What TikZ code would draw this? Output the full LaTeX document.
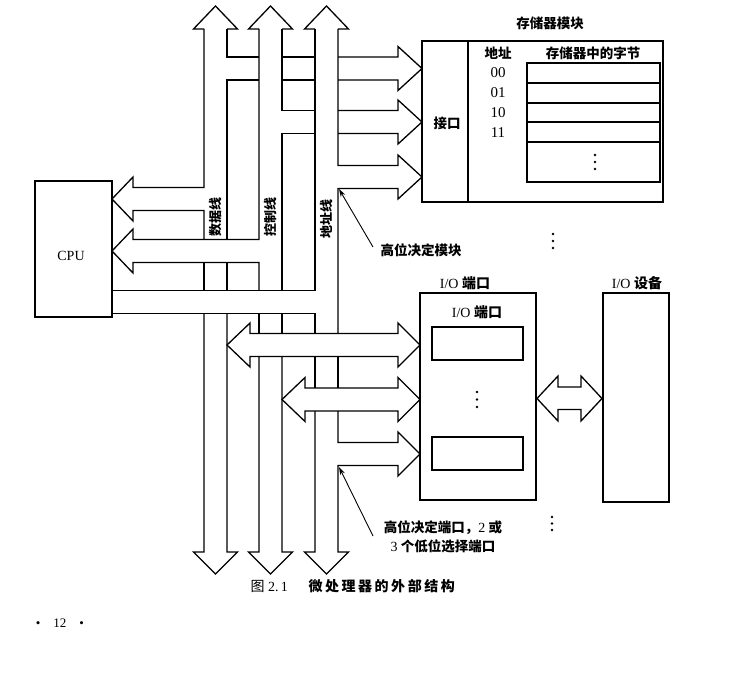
\documentclass[tikz,border=0pt]{standalone}
\usepackage{fontspec}
\setmainfont{Liberation Serif}
\newfontfamily\cjk{Noto Sans CJK SC}
\newfontfamily\cjkwide[LetterSpace=18]{Noto Sans CJK SC}
\usetikzlibrary{arrows.meta}
\begin{document}
\begin{tikzpicture}[x=1pt,y=-1pt,line width=1.3pt,line join=miter,
  box/.style={draw,rectangle,inner sep=0pt,line width=1.3pt},
  zh/.style={font=\cjk\bfseries\fontsize{13.5}{16}\selectfont,inner sep=0pt},
  zhv/.style={font=\cjk\bfseries\fontsize{13}{15}\selectfont,inner sep=0pt,rotate=90},
  lat/.style={font=\fontsize{14}{16}\selectfont,inner sep=0pt},
  num/.style={font=\fontsize{15}{17}\selectfont,inner sep=0pt},
  note/.style={line width=0.9pt,-{Stealth[length=8pt,width=5pt]}},
  dotc/.style={fill,circle,inner sep=0pt,minimum size=2.6pt}]
\fill[white] (0,0) rectangle (748,677);
\useasboundingbox (0,0) rectangle (748,677);

% ---------- boxes ----------
\node[box,minimum width=77pt,minimum height=136pt] (cpu) at (73.5,249) {};
\node[lat] (cputxt) at (71,256) {CPU};

\node[box,minimum width=241pt,minimum height=161pt] (mem) at (542.5,121.5) {};
\draw (468,41) -- (468,202);
\node[zh] (memtitle) at (550,23) {存储器模块};
\node[zh] (iface) at (447,123) {接口};
\node[zh] (addrhd) at (498,53) {地址};
\node[zh] (bytehd) at (593,53) {存储器中的字节};
\node[num] (a00) at (498,73) {00};
\node[num] (a01) at (498,93) {01};
\node[num] (a10) at (498,113) {10};
\node[num] (a11) at (498,133) {11};
\node[box,minimum width=133pt,minimum height=119pt] (cells) at (593.5,122.5) {};
\draw (527,83) -- (660,83);
\draw (527,103) -- (660,103);
\draw (527,122) -- (660,122);
\draw (527,142) -- (660,142);
\node[dotc] (md1) at (595,155) {};
\node[dotc] (md2) at (595,162) {};
\node[dotc] (md3) at (595,169) {};
\node[dotc] (vd1) at (553,234) {};
\node[dotc] (vd2) at (553,241) {};
\node[dotc] (vd3) at (553,248) {};

\node[lat] (iopl) at (465,283) {I/O {\cjk\bfseries 端口}};
\node[box,minimum width=116pt,minimum height=207pt] (iop) at (478,396.5) {};
\node[lat] (iopl2) at (477,312) {I/O {\cjk\bfseries 端口}};
\node[box,minimum width=91pt,minimum height=33pt] (port1) at (477.5,343.5) {};
\node[box,minimum width=91pt,minimum height=33pt] (port2) at (477.5,453.5) {};
\node[dotc] (pd1) at (477,392) {};
\node[dotc] (pd2) at (477,399.5) {};
\node[dotc] (pd3) at (477,407) {};
\node[lat] (devl) at (637,283) {I/O {\cjk\bfseries 设备}};
\node[box,minimum width=66pt,minimum height=209pt] (dev) at (636,397.5) {};
\node[dotc] (bd1) at (552,517) {};
\node[dotc] (bd2) at (552,523.5) {};
\node[dotc] (bd3) at (552,530) {};

% double arrow port <-> device
\draw (537,398.5) -- (558,376) -- (558,387) -- (581,387) -- (581,376) -- (602,398.5)
  -- (581,421) -- (581,409.5) -- (558,409.5) -- (558,421) -- cycle;

% ---------- data bus ----------
\draw (204,29) -- (193.5,29) -- (215.5,6) -- (237.5,29) -- (227,29);
\draw (204,29) -- (204,187.5) -- (133,187.5) -- (133,177) -- (112,199) -- (133,221)
  -- (133,210.5) -- (204,210.5) -- (204,239.5);
\draw (204,262.5) -- (204,290.5);
\draw (204,313.5) -- (204,552) -- (193.5,552) -- (215.5,574) -- (237.5,552) -- (227,552) -- (227,313.5);
\draw (227,290.5) -- (227,262.5);
\draw (227,239.5) -- (227,80) -- (259,80);
\draw (227,29) -- (227,57) -- (259,57);
\draw (282,57) -- (315,57);
\draw (282,80) -- (315,80);
\draw (338,57) -- (398,57) -- (398,46.5) -- (422,68.5) -- (398,90.5) -- (398,80) -- (338,80);

% ---------- control bus ----------
\draw (259,29) -- (248.5,29) -- (270.5,6) -- (292.5,29) -- (282,29);
\draw (259,29) -- (259,239.5) -- (133,239.5) -- (133,229) -- (112,251) -- (133,273)
  -- (133,262.5) -- (259,262.5) -- (259,290.5);
\draw (259,313.5) -- (259,333.5);
\draw (259,356.5) -- (259,552) -- (248.5,552) -- (270.5,574) -- (292.5,552) -- (282,552) -- (282,356.5);
\draw (282,333.5) -- (282,313.5);
\draw (282,290.5) -- (282,133.5) -- (315,133.5);
\draw (282,29) -- (282,110.5) -- (315,110.5);
\draw (338,110.5) -- (398,110.5) -- (398,100) -- (422,122) -- (398,144) -- (398,133.5) -- (338,133.5);

% ---------- address bus ----------
\draw (315,29) -- (304.5,29) -- (326.5,6) -- (348.5,29) -- (338,29);
\draw (315,29) -- (315,290.5) -- (112,290.5);
\draw (112,313.5) -- (315,313.5) -- (315,333.5);
\draw (315,356.5) -- (315,388);
\draw (315,411) -- (315,552) -- (304.5,552) -- (326.5,574) -- (348.5,552) -- (338,552)
  -- (338,465.5) -- (398,465.5) -- (398,476) -- (420,454) -- (398,432) -- (398,442.5)
  -- (338,442.5) -- (338,411);
\draw (338,388) -- (338,356.5);
\draw (338,333.5) -- (338,188.5) -- (398,188.5) -- (398,199) -- (422,177) -- (398,155)
  -- (398,165.5) -- (338,165.5) -- (338,29);

% ---------- I/O double arrows ----------
\draw (227,345) -- (250,323) -- (250,333.5) -- (398,333.5) -- (398,323) -- (420,345)
  -- (398,367) -- (398,356.5) -- (250,356.5) -- (250,367) -- cycle;
\draw (282,399.5) -- (305,377.5) -- (305,388) -- (398,388) -- (398,377.5) -- (420,399.5)
  -- (398,421.5) -- (398,411) -- (305,411) -- (305,421.5) -- cycle;

% ---------- bus labels ----------
\node[zhv] (dl) at (216,217) {数据线};
\node[zhv] (cl) at (271,217) {控制线};
\node[zhv] (al) at (327,219) {地址线};

% ---------- annotations ----------
\coordinate (memcorner) at (339,189);
\coordinate (iocorner) at (339,467);
\node[zh] (hm) at (421,250) {高位决定模块};
\draw[note] (373,247) -- (memcorner);
\node[zh,align=center] (hp) at (443,537) {高位决定端口，{\fontsize{14}{16}\rmfamily\mdseries 2} 或\\[3pt]{\fontsize{14}{16}\rmfamily\mdseries 3} 个低位选择端口};
\draw[note] (373,536) -- (iocorner);

% ---------- caption ----------
\node[lat,anchor=west] (figno) at (250,586) {{\cjk 图} 2.\,1};
\node[anchor=west,inner sep=0pt,font=\cjkwide\bfseries\fontsize{14}{16}\selectfont] (figcap) at (308,586) {微处理器的外部结构};
\node[lat,font=\fontsize{13}{15}\selectfont] (page) at (60,623) {\textbullet\quad 12\quad\textbullet};
\end{tikzpicture}
\end{document}
